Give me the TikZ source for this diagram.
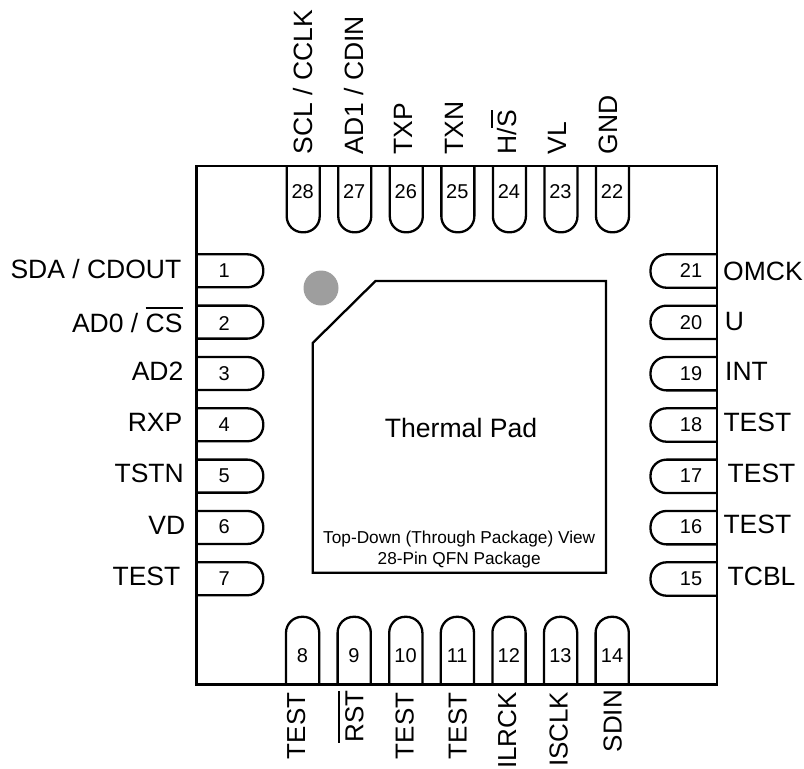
\documentclass[tikz,border=0pt]{standalone}
\usepackage{fontspec}
\setmainfont{Liberation Sans}
\newsavebox{\ovbox}
\newcommand{\ovl}[1]{\sbox{\ovbox}{#1}\rlap{\rule[23.7pt]{\wd\ovbox}{1.6pt}}\usebox{\ovbox}}
\tikzset{
  x=1pt,y=-1pt,
  line/.style={draw=black,line width=2.3pt,line join=miter},
  pinshape/.style={line,rounded corners=16pt},
  pinnum/.style={font=\fontsize{20}{22}\selectfont,inner sep=0pt},
  lab/.style={font=\fontsize{26.5}{30}\selectfont,inner sep=0pt},
  botlab/.style={font=\fontsize{26}{30}\selectfont,inner sep=0pt},
  padlab/.style={font=\fontsize{26.6}{30}\selectfont,inner sep=0pt},
  small/.style={font=\fontsize{17.25}{20.8}\selectfont,inner sep=0pt,align=center}
}
\begin{document}
\begin{tikzpicture}
\useasboundingbox (0,0) rectangle (804,769);
\draw[line] (196.5,166) rectangle (717,684.5);
\node[circle,fill=black!38,minimum size=35pt,inner sep=0pt] (dot) at (321,288) {};
\draw[line] (375.5,281) -- (606,281) -- (606,572.7) -- (312.7,572.7) -- (312.7,343) -- cycle;
\node[padlab] (pad) at (461,428) {Thermal Pad};
\node[small] (view) at (459.2,549.5) {Top-Down (Through Package) View\\28-Pin QFN Package};
% left pins: number / text / right edge / baseline / number y
\foreach \n/\t/\xx/\bl/\ny in {1/{SDA / CDOUT}/181.5/278.3/270.7,2/{AD0 / \ovl{CS}}/182.7/332.7/323.3,3/AD2/183.5/380/373.3,4/RXP/182.5/431.7/425,5/TSTN/184/482.3/476,6/VD/185.5/534.3/526.7,7/TEST/180.5/585/578.3}{
  \pgfmathsetmacro\yy{254.3+(\n-1)*51.33}
  \draw[pinshape] (196.5,\yy) -- (263.3,\yy) -- (263.3,\yy+33) -- (196.5,\yy+33);
  \node[pinnum] (p\n) at (224.3,\ny) {\n};
  \node[lab,anchor=base east] (l\n) at (\xx,\bl) {\t};
}
% bottom pins: number / text / baseline x / top end
\foreach \n/\t/\xx/\te in {8/TEST/305/692.5,9/\ovl{RST}/363.3/690.5,10/TEST/413.5/692.5,11/TEST/466.5/692.5,12/ILRCK/516/692,13/ISCLK/567.5/691.5,14/SDIN/621.5/690}{
  \pgfmathsetmacro\px{286+(\n-8)*51.6}
  \draw[pinshape] (\px,684.5) -- (\px,616.8) -- (\px+33.2,616.8) -- (\px+33.2,684.5);
  \node[pinnum] (p\n) at (\px+16.4,656) {\n};
  \node[botlab,rotate=90,anchor=base east] (l\n) at (\xx,\te) {\t};
}
% right pins: number / text / left edge / baseline / number y
\foreach \n/\t/\xx/\bl/\ny in {15/TCBL/727.5/585/579,16/TEST/723.3/533.3/526.7,17/TEST/727.5/482.7/476,18/TEST/723.3/431.7/424.7,19/INT/725/380/373.3,20/U/724.7/330.7/322.7,21/OMCK/723/280/270.7}{
  \pgfmathsetmacro\yy{562.3-(\n-15)*51.33}
  \draw[pinshape] (717,\yy) -- (650.5,\yy) -- (650.5,\yy+33.4) -- (717,\yy+33.4);
  \node[pinnum] (p\n) at (691,\ny) {\n};
  \node[lab,anchor=base west] (l\n) at (\xx,\bl) {\t};
}
% top pins: number / text / baseline x
\foreach \n/\t/\xx in {22/GND/617.5,23/VL/566,24/{H/\ovl{S}}/516.5,25/TXN/463,26/TXP/412.5,27/{AD1 / CDIN}/363,28/{SCL / CCLK}/312.5}{
  \pgfmathsetmacro\px{286.7+(28-\n)*51.55}
  \draw[pinshape] (\px,166) -- (\px,232.3) -- (\px+33,232.3) -- (\px+33,166);
  \node[pinnum] (p\n) at (\px+16,192) {\n};
  \node[lab,rotate=90,anchor=base west] (l\n) at (\xx,154.5) {\t};
}
\end{tikzpicture}
\end{document}
